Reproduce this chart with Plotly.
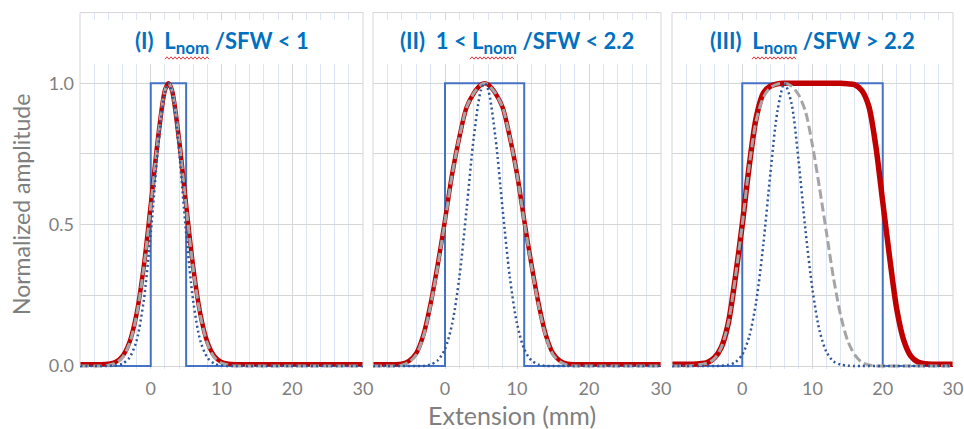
import plotly.graph_objects as go

# ---------------- data ----------------
x_tick_vals = [0, 10, 20, 30]
x_tick_text = ["0", "10", "20", "30"]
y_tick_vals = [0, 0.5, 1.0]
y_tick_text = ["0.0", "0.5", "1.0"]

SUB = "<sub><span style='font-size:17px'>nom</span></sub>"
titles = ["(I)\u00a0\u00a0L" + SUB + " /SFW &lt; 1",
          "(II)\u00a0\u00a01 &lt; L" + SUB + " /SFW &lt; 2.2",
          "(III)\u00a0\u00a0L" + SUB + " /SFW &gt; 2.2"]

# rectangular (nominal length) profiles
rect_y = [0, 0, 1, 1, 0, 0]
rect_x_p1 = [-10, 0, 0, 5, 5, 30]
rect_x_p2 = [-10, 0, 0, 11, 11, 30]
rect_x_p3 = [-10, 0, 0, 20, 20, 30]

# panel I
x_p1 = [-10, -8, -7, -6, -5, -4, -3, -2, -1, 0, 1, 2, 2.5, 3, 4, 5, 6, 7, 8, 9, 10, 11, 12, 13, 15, 20, 25, 30]
red_p1 = [0.006, 0.006, 0.006, 0.008, 0.014, 0.035, 0.085, 0.185, 0.35, 0.57, 0.80, 0.975, 1.0, 0.975, 0.80, 0.57,
          0.35, 0.185, 0.085, 0.035, 0.014, 0.008, 0.006, 0.006, 0.006, 0.006, 0.006, 0.006]
gray_p1 = [0, 0, 0, 0.003, 0.01, 0.03, 0.08, 0.18, 0.345, 0.565, 0.80, 0.975, 1.0, 0.975, 0.80, 0.565,
           0.345, 0.18, 0.08, 0.03, 0.01, 0.003, 0, 0, 0, 0, 0, 0]
dot_p1 = [0, 0, 0, 0, 0.002, 0.008, 0.03, 0.09, 0.23, 0.47, 0.76, 0.97, 1.0, 0.97, 0.76, 0.47,
          0.23, 0.09, 0.03, 0.008, 0.002, 0, 0, 0, 0, 0, 0, 0]

# panel II
x_p2 = [-10, -8, -7, -6, -5, -4, -3, -2, -1, 0, 1, 2, 3, 4, 5, 5.5, 6, 7, 8, 9, 10, 11, 12, 13, 14, 15, 16, 17, 18, 20, 25, 30]
red_p2 = [0.006, 0.006, 0.006, 0.008, 0.018, 0.045, 0.11, 0.22, 0.36, 0.516, 0.68, 0.81, 0.915, 0.965, 0.995, 1.0,
          0.995, 0.965, 0.915, 0.81, 0.68, 0.516, 0.36, 0.22, 0.11, 0.045, 0.018, 0.008, 0.006, 0.006, 0.006, 0.006]
gray_p2 = [0, 0, 0, 0.003, 0.014, 0.04, 0.105, 0.215, 0.355, 0.512, 0.678, 0.81, 0.915, 0.965, 0.995, 1.0,
           0.995, 0.965, 0.915, 0.81, 0.678, 0.512, 0.355, 0.215, 0.105, 0.04, 0.014, 0.003, 0, 0, 0, 0]
dot_p2 = [0, 0, 0, 0, 0, 0, 0, 0.005, 0.02, 0.06, 0.15, 0.315, 0.555, 0.81, 0.977, 1.0,
          0.977, 0.81, 0.555, 0.315, 0.15, 0.06, 0.02, 0.005, 0, 0, 0, 0, 0, 0, 0, 0]

# panel III
x_p3 = [-10, -8, -7, -6, -5, -4, -3, -2, -1, 0, 1, 2, 3, 4, 5, 6, 7, 8, 9, 10, 11, 12, 13, 14, 15,
        16, 17, 18, 19, 20, 21, 22, 23, 24, 25, 26, 27, 28, 30]
red_p3 = [0.006, 0.006, 0.006, 0.008, 0.012, 0.028, 0.065, 0.15, 0.31, 0.50, 0.71, 0.88, 0.965, 0.99, 0.998,
          1.0, 1.0, 1.0, 1.0, 1.0, 1.0, 1.0, 1.0, 1.0, 0.998, 0.995, 0.975, 0.92, 0.78, 0.58, 0.38, 0.20,
          0.09, 0.035, 0.014, 0.008, 0.006, 0.006, 0.006]
gray_p3 = [0, 0, 0.002, 0.005, 0.01, 0.025, 0.065, 0.15, 0.31, 0.50, 0.71, 0.87, 0.95, 0.985, 0.997,
           1.0, 0.99, 0.96, 0.90, 0.78, 0.63, 0.47, 0.31, 0.18, 0.09, 0.04, 0.013, 0.004, 0, 0, 0, 0,
           0, 0, 0, 0, 0, 0, 0]
dot_p3 = [0, 0, 0, 0, 0, 0, 0.001, 0.004, 0.013, 0.04, 0.105, 0.23, 0.43, 0.68, 0.90,
          1.0, 0.93, 0.73, 0.48, 0.27, 0.125, 0.049, 0.016, 0.005, 0.001, 0, 0, 0, 0, 0, 0, 0,
          0, 0, 0, 0, 0, 0, 0]

panels = [
    dict(x=x_p1, red=red_p1, gray=gray_p1, dot=dot_p1, rx=rect_x_p1, redw=4.5),
    dict(x=x_p2, red=red_p2, gray=gray_p2, dot=dot_p2, rx=rect_x_p2, redw=4.5),
    dict(x=x_p3, red=red_p3, gray=gray_p3, dot=dot_p3, rx=rect_x_p3, redw=5.5),
]

# ---------------- styling / geometry ----------------
W, H = 964, 429
panel_px = [(80, 363), (373, 661), (672, 953)]
squiggle_px = [(165, 210), (470, 515), (752, 797)]   # spell-check underline under "Lnom"
y_top_px, y_bot_px, y_zero_px = 12.6, 369.4, 366.0
GRAY = "#D6D6D6"
LIGHTBLUE = "#DCE5F4"
TICK_COLOR = "#7F7F7F"
FONT = "Lato"

fig = go.Figure()
layout = dict(width=W, height=H, margin=dict(l=0, r=0, t=0, b=0, autoexpand=False),
              paper_bgcolor="white", plot_bgcolor="white", showlegend=False,
              font=dict(family=FONT, color=TICK_COLOR))

shapes = []
annotations = []
ydom = [1 - y_bot_px / H, 1 - y_top_px / H]


def squiggle_path(x0, x1, yc):
    pts = []
    k = 0
    xx = x0
    while xx <= x1:
        yy = yc + (1.2 if k % 2 == 0 else -1.2)
        pts.append((xx / W, 1 - yy / H))
        xx += 2
        k += 1
    return "M " + " L ".join(f"{a:.5f},{b:.5f}" for a, b in pts)


for i, p in enumerate(panels):
    sfx = "" if i == 0 else str(i + 1)
    xa, ya = "x" + sfx, "y" + sfx
    l, r = panel_px[i]
    xdom = [l / W, r / W]
    layout["xaxis" + sfx] = dict(
        domain=xdom, range=[-10, 30], anchor=ya, automargin=False,
        tickvals=x_tick_vals, ticktext=x_tick_text,
        showgrid=True, gridcolor=GRAY, gridwidth=1, zeroline=False, showline=False, ticks="",
        tickfont=dict(family=FONT, size=18, color=TICK_COLOR), ticklabelstandoff=7,
        minor=dict(dtick=2, tick0=0, showgrid=True, gridcolor=LIGHTBLUE, gridwidth=1),
        fixedrange=True)
    layout["yaxis" + sfx] = dict(
        domain=ydom, range=[-0.012, 1.25], anchor=xa, automargin=False,
        tickvals=y_tick_vals, ticktext=y_tick_text,
        showgrid=True, gridcolor=GRAY, gridwidth=1, zeroline=False, showline=False, ticks="",
        showticklabels=(i == 0), ticklabelstandoff=5,
        tickfont=dict(family=FONT, size=18, color=TICK_COLOR),
        minor=dict(tickvals=[0.25, 0.75], showgrid=True, gridcolor=GRAY, gridwidth=1),
        fixedrange=True)

    fig.add_trace(go.Scatter(x=p["rx"], y=rect_y, mode="lines", xaxis=xa, yaxis=ya,
                             line=dict(color="#4472C4", width=2)))
    fig.add_trace(go.Scatter(x=p["x"], y=p["red"], mode="lines", xaxis=xa, yaxis=ya,
                             line=dict(color="#C00000", width=p["redw"], shape="spline", smoothing=0.8)))
    fig.add_trace(go.Scatter(x=p["x"], y=p["gray"], mode="lines", xaxis=xa, yaxis=ya,
                             line=dict(color="#A5A5A5", width=3, dash="9px,4px", shape="spline", smoothing=0.8)))
    fig.add_trace(go.Scatter(x=p["x"], y=p["dot"], mode="lines", xaxis=xa, yaxis=ya,
                             line=dict(color="#2F5597", width=2.5, dash="2px,3px", shape="spline", smoothing=0.8)))

    # white title box (hides gridlines behind the title)
    shapes.append(dict(type="rect", xref="paper", yref="paper", layer="above",
                       x0=(l + 1) / W, x1=(r - 1) / W, y0=1 - 64 / H, y1=1 - 20 / H,
                       fillcolor="white", line=dict(width=0)))
    # panel frame (left, right, top)
    ytop = 1 - y_top_px / H
    yz = 1 - y_zero_px / H
    for (x0, y0, x1, y1) in [(l, yz, l, ytop), (r, yz, r, ytop), (l, ytop, r, ytop)]:
        shapes.append(dict(type="line", xref="paper", yref="paper", layer="above",
                           x0=x0 / W, x1=x1 / W, y0=y0, y1=y1,
                           line=dict(color=GRAY, width=1)))
    sx0, sx1 = squiggle_px[i]
    shapes.append(dict(type="path", xref="paper", yref="paper", layer="above",
                       path=squiggle_path(sx0, sx1, 58), line=dict(color="#E8383D", width=1)))
    annotations.append(dict(text="<b>" + titles[i] + "</b>", xref="paper", yref="paper",
                            x=(l + r) / 2 / W, y=1 - 42 / H, xanchor="center", yanchor="middle",
                            showarrow=False, font=dict(family=FONT, size=22, color="#0070C0")))

annotations.append(dict(text="Normalized amplitude", xref="paper", yref="paper",
                        x=21 / W, y=1 - 205 / H, xanchor="center", yanchor="middle", textangle=-90,
                        showarrow=False, font=dict(family=FONT, size=23, color=TICK_COLOR)))
annotations.append(dict(text="Extension (mm)", xref="paper", yref="paper",
                        x=512 / W, y=1 - 415 / H, xanchor="center", yanchor="middle",
                        showarrow=False, font=dict(family=FONT, size=25, color=TICK_COLOR)))

layout["shapes"] = shapes
layout["annotations"] = annotations
fig.update_layout(**layout)
fig.write_html("out.html")
